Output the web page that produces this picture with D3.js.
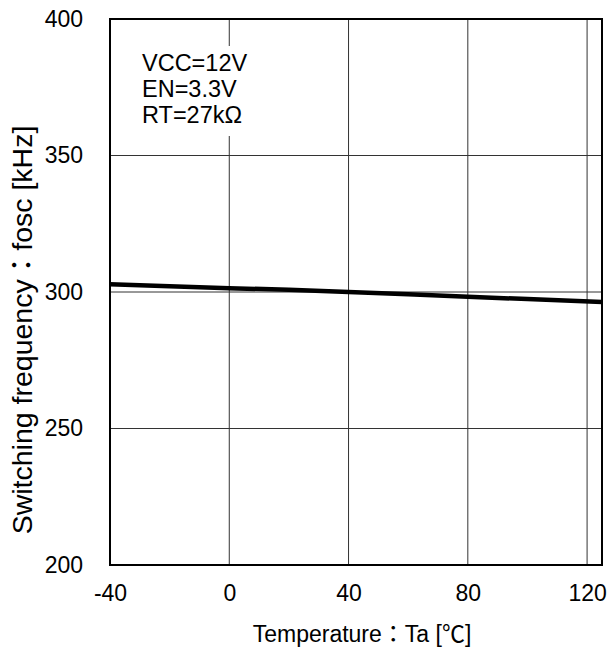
<!DOCTYPE html>
<html><head><meta charset="utf-8">
<script src="https://cdn.jsdelivr.net/npm/d3@7"></script>
<style>body{margin:0;background:#fff}text{font-family:Arial,"Liberation Sans","Noto Sans CJK JP",sans-serif;fill:#000}</style>
</head><body><svg id="c" width="608" height="647"></svg>
<script>
const temps = [-40, -20, 0, 20, 40, 60, 80, 100, 125];
const freq = [302.8, 302.1, 301.4, 300.8, 300.0, 299.2, 298.3, 297.4, 296.3];
const xTicks = [-40, 0, 40, 80, 120];
const yTicks = [200, 250, 300, 350, 400];
const notes = ["VCC=12V", "EN=3.3V", "RT=27kΩ"];
const FF = 'Arial,"Liberation Sans","Noto Sans CJK JP",sans-serif';

const svg = d3.select("#c");
const L = 110, R = 602, T = 19, B = 565;
const x = d3.scaleLinear().domain([-40, 125]).range([L, R]);
const y = d3.scaleLinear().domain([200, 400]).range([B, T]);

svg.append("g").selectAll("line").data(xTicks.slice(1)).join("line")
  .attr("x1", d => x(d)).attr("x2", d => x(d)).attr("y1", T).attr("y2", B)
  .attr("stroke", "#333").attr("stroke-width", 1);
svg.append("g").selectAll("line").data(yTicks.slice(1, -1)).join("line")
  .attr("x1", L).attr("x2", R).attr("y1", d => y(d)).attr("y2", d => y(d))
  .attr("stroke", "#333").attr("stroke-width", 1);

svg.append("rect").attr("x", 138).attr("y", 46).attr("width", 120).attr("height", 90).attr("fill", "#fff");

svg.append("path").datum(temps.map((t, i) => [t, freq[i]]))
  .attr("d", d3.line().x(d => x(d[0])).y(d => y(d[1])))
  .attr("fill", "none").attr("stroke", "#000").attr("stroke-width", 4.5);

svg.append("rect").attr("x", L).attr("y", T).attr("width", R - L).attr("height", B - T)
  .attr("fill", "none").attr("stroke", "#000").attr("stroke-width", 2);

const xa = svg.append("g").attr("transform", `translate(0,${B})`)
  .call(d3.axisBottom(x).tickValues(xTicks).tickSize(0).tickPadding(20).tickFormat(d => String(d)));
xa.select(".domain").remove();
xa.selectAll("text").attr("font-size", 23).style("font-family", FF);

const ya = svg.append("g").attr("transform", `translate(${L},0)`)
  .call(d3.axisLeft(y).tickValues(yTicks).tickSize(0).tickPadding(27).tickFormat(d => String(d)));
ya.select(".domain").remove();
ya.selectAll("text").attr("font-size", 23).style("font-family", FF);

svg.append("text").attr("x", 362).attr("y", 642).attr("text-anchor", "middle")
  .attr("font-size", 23).style("font-family", FF).text("Temperature：Ta [℃]");
svg.append("text").attr("transform", "translate(32,330) rotate(-90)").attr("text-anchor", "middle")
  .attr("font-size", 28.5).style("font-family", FF).text("Switching frequency：fosc [kHz]");

svg.append("g").selectAll("text").data(notes).join("text")
  .attr("x", 142).attr("y", (d, i) => 70.7 + i * 26.3).attr("font-size", 23.5)
  .style("font-family", FF).text(d => d);
</script></body></html>
